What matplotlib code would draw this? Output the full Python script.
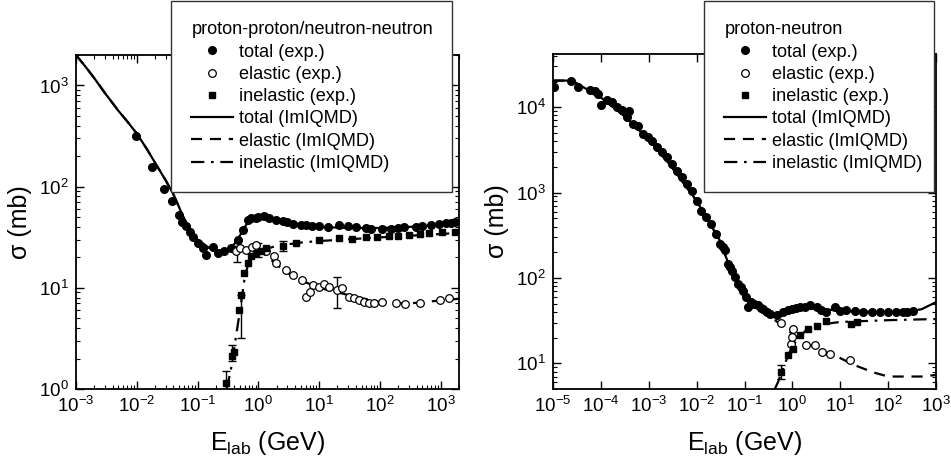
import numpy as np
import matplotlib
matplotlib.use('Agg')
import matplotlib.pyplot as plt
from matplotlib.lines import Line2D

plt.rcParams['font.family'] = ['Liberation Sans', 'DejaVu Sans']
plt.rcParams['mathtext.fontset'] = 'custom'
plt.rcParams['mathtext.rm'] = 'Liberation Sans'
plt.rcParams['mathtext.it'] = 'Liberation Sans:italic'
plt.rcParams['mathtext.bf'] = 'Liberation Sans:bold'

# ---------------- proton-proton / neutron-neutron (left) ----------------
pp_tot_E = [0.0096, 0.0175, 0.028, 0.038, 0.049, 0.056, 0.065, 0.074, 0.084, 0.101,
            0.122, 0.139, 0.178, 0.215, 0.277, 0.356, 0.457, 0.553, 0.668, 0.75,
            0.916, 1.25, 1.95, 3.65, 7.76, 21, 58, 109, 385, 927, 1740]
pp_tot_s = [315, 155, 95, 72, 52.6, 45, 40.4, 36, 32, 27.7,
            24.7, 21.2, 25.6, 22, 22.9, 24.7, 29.9, 37.5, 47, 49,
            49, 50.8, 47, 43, 40.4, 42, 39, 38, 40, 43, 44.3]
# denser readings along the plateau
pp_tot_E2 = [1.0, 1.5, 2.5, 3.0, 5.0, 6.0, 10, 14, 30, 40, 70, 150, 200, 250, 500, 700, 1200, 1500]
pp_tot_s2 = [50, 49.5, 46, 45, 42, 41.5, 40.5, 40, 40.5, 39.5, 38.5, 38.5, 39, 39.5, 41, 42, 43.5, 44]

pp_el_E = [0.43, 0.5, 0.63, 0.8, 0.92, 1.34, 1.83, 1.95, 2.85, 3.65, 5.3, 7.8, 6.0, 7.0,
           10, 12, 14.6, 20, 24, 31, 38, 45, 55, 66, 80, 110, 181, 263, 464, 990, 1350]
pp_el_s = [22.9, 25, 23.8, 25.5, 26.7, 22.9, 20.4, 17.5, 15.1, 13.4, 12, 10.7, 8.2, 9.0,
           10.3, 11, 10.3, 9.5, 10, 8.2, 7.9, 7.6, 7.3, 7, 7.1, 7.3, 7, 6.95, 7, 7.6, 7.9]

pp_in_E = [0.295, 0.366, 0.405, 0.476, 0.52, 0.59, 0.668, 0.76, 0.916, 1.1, 1.34, 2.5,
           4.15, 10, 21, 35, 59, 90, 141, 200, 298, 450, 630, 1050, 1740]
pp_in_s = [1.14, 2.1, 2.34, 6.05, 8.5, 14, 17.5, 20.4, 22, 23, 24.7, 26,
           27.7, 30, 31, 30.5, 31.7, 32, 32.2, 32.5, 33.5, 34, 34.7, 35.5, 36]

# error bars (E, sigma, low, high)
pp_err_E = [0.295, 0.37, 0.52, 0.45, 1.0, 2.5, 20]
pp_err_s = [1.14, 2.1, 6.0, 22, 24, 26, 9.0]
pp_err_lo = [0.95, 1.9, 3.2, 18, 20, 23, 6.3]
pp_err_hi = [1.5, 2.7, 8.5, 26, 28, 29, 12.8]

# model curves
pp_mod_E = [0.001, 0.0015, 0.002, 0.003, 0.005, 0.007, 0.01, 0.015, 0.02, 0.03, 0.04,
            0.05, 0.06, 0.08, 0.1, 0.15, 0.2, 0.3, 0.4,
            0.5, 0.6, 0.7, 0.8, 1.2, 2, 4, 10, 30, 100, 300, 1000, 2000]
pp_mod_tot = [2000, 1480, 1180, 840, 560, 440, 335, 230, 172, 115, 84,
              62, 48, 36, 30, 25, 23.5, 23, 27,
              33, 40, 46, 48, 49, 47, 43, 40, 39, 39, 40, 42, 44]
pp_mod_el = [2000, 1480, 1180, 840, 560, 440, 335, 230, 172, 115, 84,
             62, 48, 36, 30, 25, 23.5, 23, 24,
             24, 24, 23.8, 23.5, 22, 17, 12.5, 10, 8.5, 7.2, 7.0, 7.5, 7.8]
pp_in_mod_E = [0.3, 0.35, 0.4, 0.45, 0.5, 0.55, 0.6, 0.7, 0.8, 1, 2, 5, 10, 100, 1000, 2000]
pp_in_mod = [1.0, 1.5, 2.5, 4, 6, 9, 13, 18, 21, 23, 26, 28, 29, 31.5, 34, 35]

# ---------------- proton-neutron (right) ----------------
pn_tot_E = [1.05e-5, 2.35e-5, 3.4e-5, 5.9e-5, 7.5e-5, 8.9e-5, 1e-4, 1.33e-4, 1.7e-4, 2.14e-4,
            2.7e-4, 3.45e-4, 3.9e-4, 4.8e-4, 6e-4, 7.7e-4, 9.8e-4, 1.15e-3, 1.46e-3, 1.86e-3,
            2.35e-3, 3.0e-3, 3.8e-3, 4.9e-3, 6.2e-3, 7.9e-3, 1e-2, 1.26e-2, 1.6e-2, 2.04e-2,
            2.6e-2, 3.1e-2, 3.5e-2, 3.9e-2, 4.6e-2, 5.0e-2, 5.4e-2, 6.3e-2, 7.4e-2, 8.5e-2,
            9.4e-2, 0.11, 0.12, 0.14, 0.16, 0.194, 0.22, 0.246, 0.3, 0.34, 0.47, 0.64,
            0.8, 0.96, 1.2, 1.44, 1.8, 2.3, 3.2, 4.0, 5.1, 7.7, 10, 13.4, 20, 30,
            45, 67, 100, 148, 200, 250, 330]
pn_tot_s = [17400, 20400, 17400, 15900, 15300, 14300, 10700, 12100, 11400, 10100,
            9270, 7600, 9100, 6300, 6050, 4850, 4430, 4060, 3390, 2960,
            2590, 2160, 1810, 1510, 1260, 1050, 805, 615, 515, 430,
            329, 251, 230, 210, 146, 135, 122, 103, 85, 78,
            71, 60, 45.6, 52, 49, 48, 45, 43.7, 40, 38, 36.5, 39.8,
            42, 43.7, 45, 45.6, 46, 48, 45.6, 42, 39.8, 45.6, 41, 41.8, 40.5, 39.8,
            39.5, 39.8, 39.5, 39.8, 40, 40.2, 40.8]

pn_el_E = [0.59, 0.93, 0.96, 1.04, 1.97, 2.95, 4.07, 6.1, 15.8]
pn_el_s = [30, 17, 20.3, 25.4, 16.3, 16.3, 13.5, 12.7, 11]

pn_in_E = [0.59, 0.81, 1.04, 1.44, 2.13, 3.2, 5.1, 17, 22]
pn_in_s = [7.9, 12.4, 14.9, 21.3, 25.4, 27.6, 31.7, 29, 30.2]

pn_err_E = [0.59]
pn_err_s = [7.9]
pn_err_lo = [6.5]
pn_err_hi = [9.5]

pn_mod_E = [1e-5, 2.5e-5, 1e-4, 3e-4, 1e-3, 3e-3, 1e-2, 3e-2, 0.06, 0.1, 0.2, 0.3,
            0.4, 0.6, 1, 2, 5, 10, 50, 100, 300, 500, 1000]
pn_mod_tot = [20500, 20500, 13000, 8000, 4200, 2000, 800, 280, 100, 60, 42, 36,
              35, 37, 42, 44, 43, 41, 40, 40, 41, 43, 52]
pn_mod_el_E = [1e-5, 2.5e-5, 1e-4, 3e-4, 1e-3, 3e-3, 1e-2, 3e-2, 0.06, 0.1, 0.2, 0.3,
               0.4, 0.6, 1, 2, 5, 10, 20, 50, 100, 200, 500, 1000]
pn_mod_el = [20500, 20500, 13000, 8000, 4200, 2000, 800, 280, 100, 60, 42, 36,
             33, 28, 22, 17, 13.5, 11.5, 9.5, 7.8, 7.0, 7.0, 7.0, 7.3]
pn_in_mod_E = [0.43, 0.5, 0.6, 0.8, 1, 1.5, 2, 3, 5, 10, 100, 1000]
pn_in_mod = [5, 6, 8, 12, 16, 21, 25, 27, 29, 30.5, 32, 33]

fig = plt.figure(figsize=(9.51, 4.65), dpi=100)
axL = fig.add_axes([76/951, 1-389/465, 383/951, 334/465])
axR = fig.add_axes([553/951, 1-389/465, 383/951, 335/465])

ms_c = 5.5
ms_s = 4.8


def style_ax(ax):
    ax.set_xscale('log')
    ax.set_yscale('log')
    ax.tick_params(which='both', direction='in', top=True, right=True, labelsize=13.5, pad=5)
    ax.tick_params(which='major', length=6, width=1)
    ax.tick_params(which='minor', length=3, width=0.8)
    for s in ax.spines.values():
        s.set_linewidth(1.3)
    ax.set_xlabel(r'E$_{\mathrm{lab}}$ (GeV)', fontsize=18, labelpad=9)
    ax.set_ylabel('σ (mb)', fontsize=18, labelpad=5)


def draw(ax, totE, tots, elE, els, inE, ins, eE, es, elo, ehi,
         mE, mtot, mElE, mel, mInE, mIn):
    ax.plot(mE, mtot, '-', color='black', lw=1.6, zorder=3)
    ax.plot(mElE, mel, '--', color='black', lw=1.6, dashes=(5, 3.5), zorder=3)
    ax.plot(mInE, mIn, '-.', color='black', lw=1.6, dashes=(6, 3, 1.2, 3), zorder=3)
    ax.errorbar(eE, es, yerr=[np.array(es) - np.array(elo), np.array(ehi) - np.array(es)],
                fmt='none', ecolor='black', elinewidth=1, capsize=3, zorder=4)
    ax.plot(totE, tots, 'o', color='black', ms=ms_c, zorder=5)
    ax.plot(elE, els, 'o', mfc='white', mec='black', mew=0.9, ms=ms_c, zorder=5)
    ax.plot(inE, ins, 's', color='black', ms=ms_s, zorder=5)


style_ax(axL)
draw(axL, pp_tot_E + pp_tot_E2, pp_tot_s + pp_tot_s2, pp_el_E, pp_el_s, pp_in_E, pp_in_s,
     pp_err_E, pp_err_s, pp_err_lo, pp_err_hi,
     pp_mod_E, pp_mod_tot, pp_mod_E, pp_mod_el, pp_in_mod_E, pp_in_mod)
axL.set_xlim(1e-3, 2e3)
axL.set_ylim(1, 2000)

style_ax(axR)
draw(axR, pn_tot_E, pn_tot_s, pn_el_E, pn_el_s, pn_in_E, pn_in_s,
     pn_err_E, pn_err_s, pn_err_lo, pn_err_hi,
     pn_mod_E, pn_mod_tot, pn_mod_el_E, pn_mod_el, pn_in_mod_E, pn_in_mod)
axR.set_xlim(1e-5, 1e3)
axR.set_ylim(5, 4.2e4)
axR.set_xticks([10.0**k for k in range(-5, 4)])

handles = [
    Line2D([], [], ls='none', marker='o', color='black', ms=ms_c),
    Line2D([], [], ls='none', marker='o', mfc='white', mec='black', mew=0.9, ms=ms_c),
    Line2D([], [], ls='none', marker='s', color='black', ms=ms_s),
    Line2D([], [], ls='-', color='black', lw=1.6),
    Line2D([], [], ls='--', color='black', lw=1.6, dashes=(5, 3.5)),
    Line2D([], [], ls='-.', color='black', lw=1.6, dashes=(6, 3, 1.2, 3)),
]
labels = ['total (exp.)', 'elastic (exp.)', 'inelastic (exp.)',
          'total (ImIQMD)', 'elastic (ImIQMD)', 'inelastic (ImIQMD)']

for ax, title, x0, x1 in [(axL, 'proton-proton/neutron-neutron', 171, 452),
                          (axR, 'proton-neutron', 704, 934)]:
    leg = ax.legend(handles, labels, title=title, loc='upper left',
                    bbox_to_anchor=(x0/951, 1 - 183/465, (x1 - x0)/951, 182/465),
                    bbox_transform=fig.transFigure, mode='expand', borderaxespad=0,
                    fontsize=13.1, title_fontsize=13.1, handlelength=2.3,
                    handletextpad=0.3, labelspacing=0.29, borderpad=1.12,
                    fancybox=False, framealpha=1, edgecolor='#333333',
                    alignment='left')
    leg.get_frame().set_linewidth(1.0)
    leg.set_zorder(10)

fig.savefig('out.png', dpi=100)
